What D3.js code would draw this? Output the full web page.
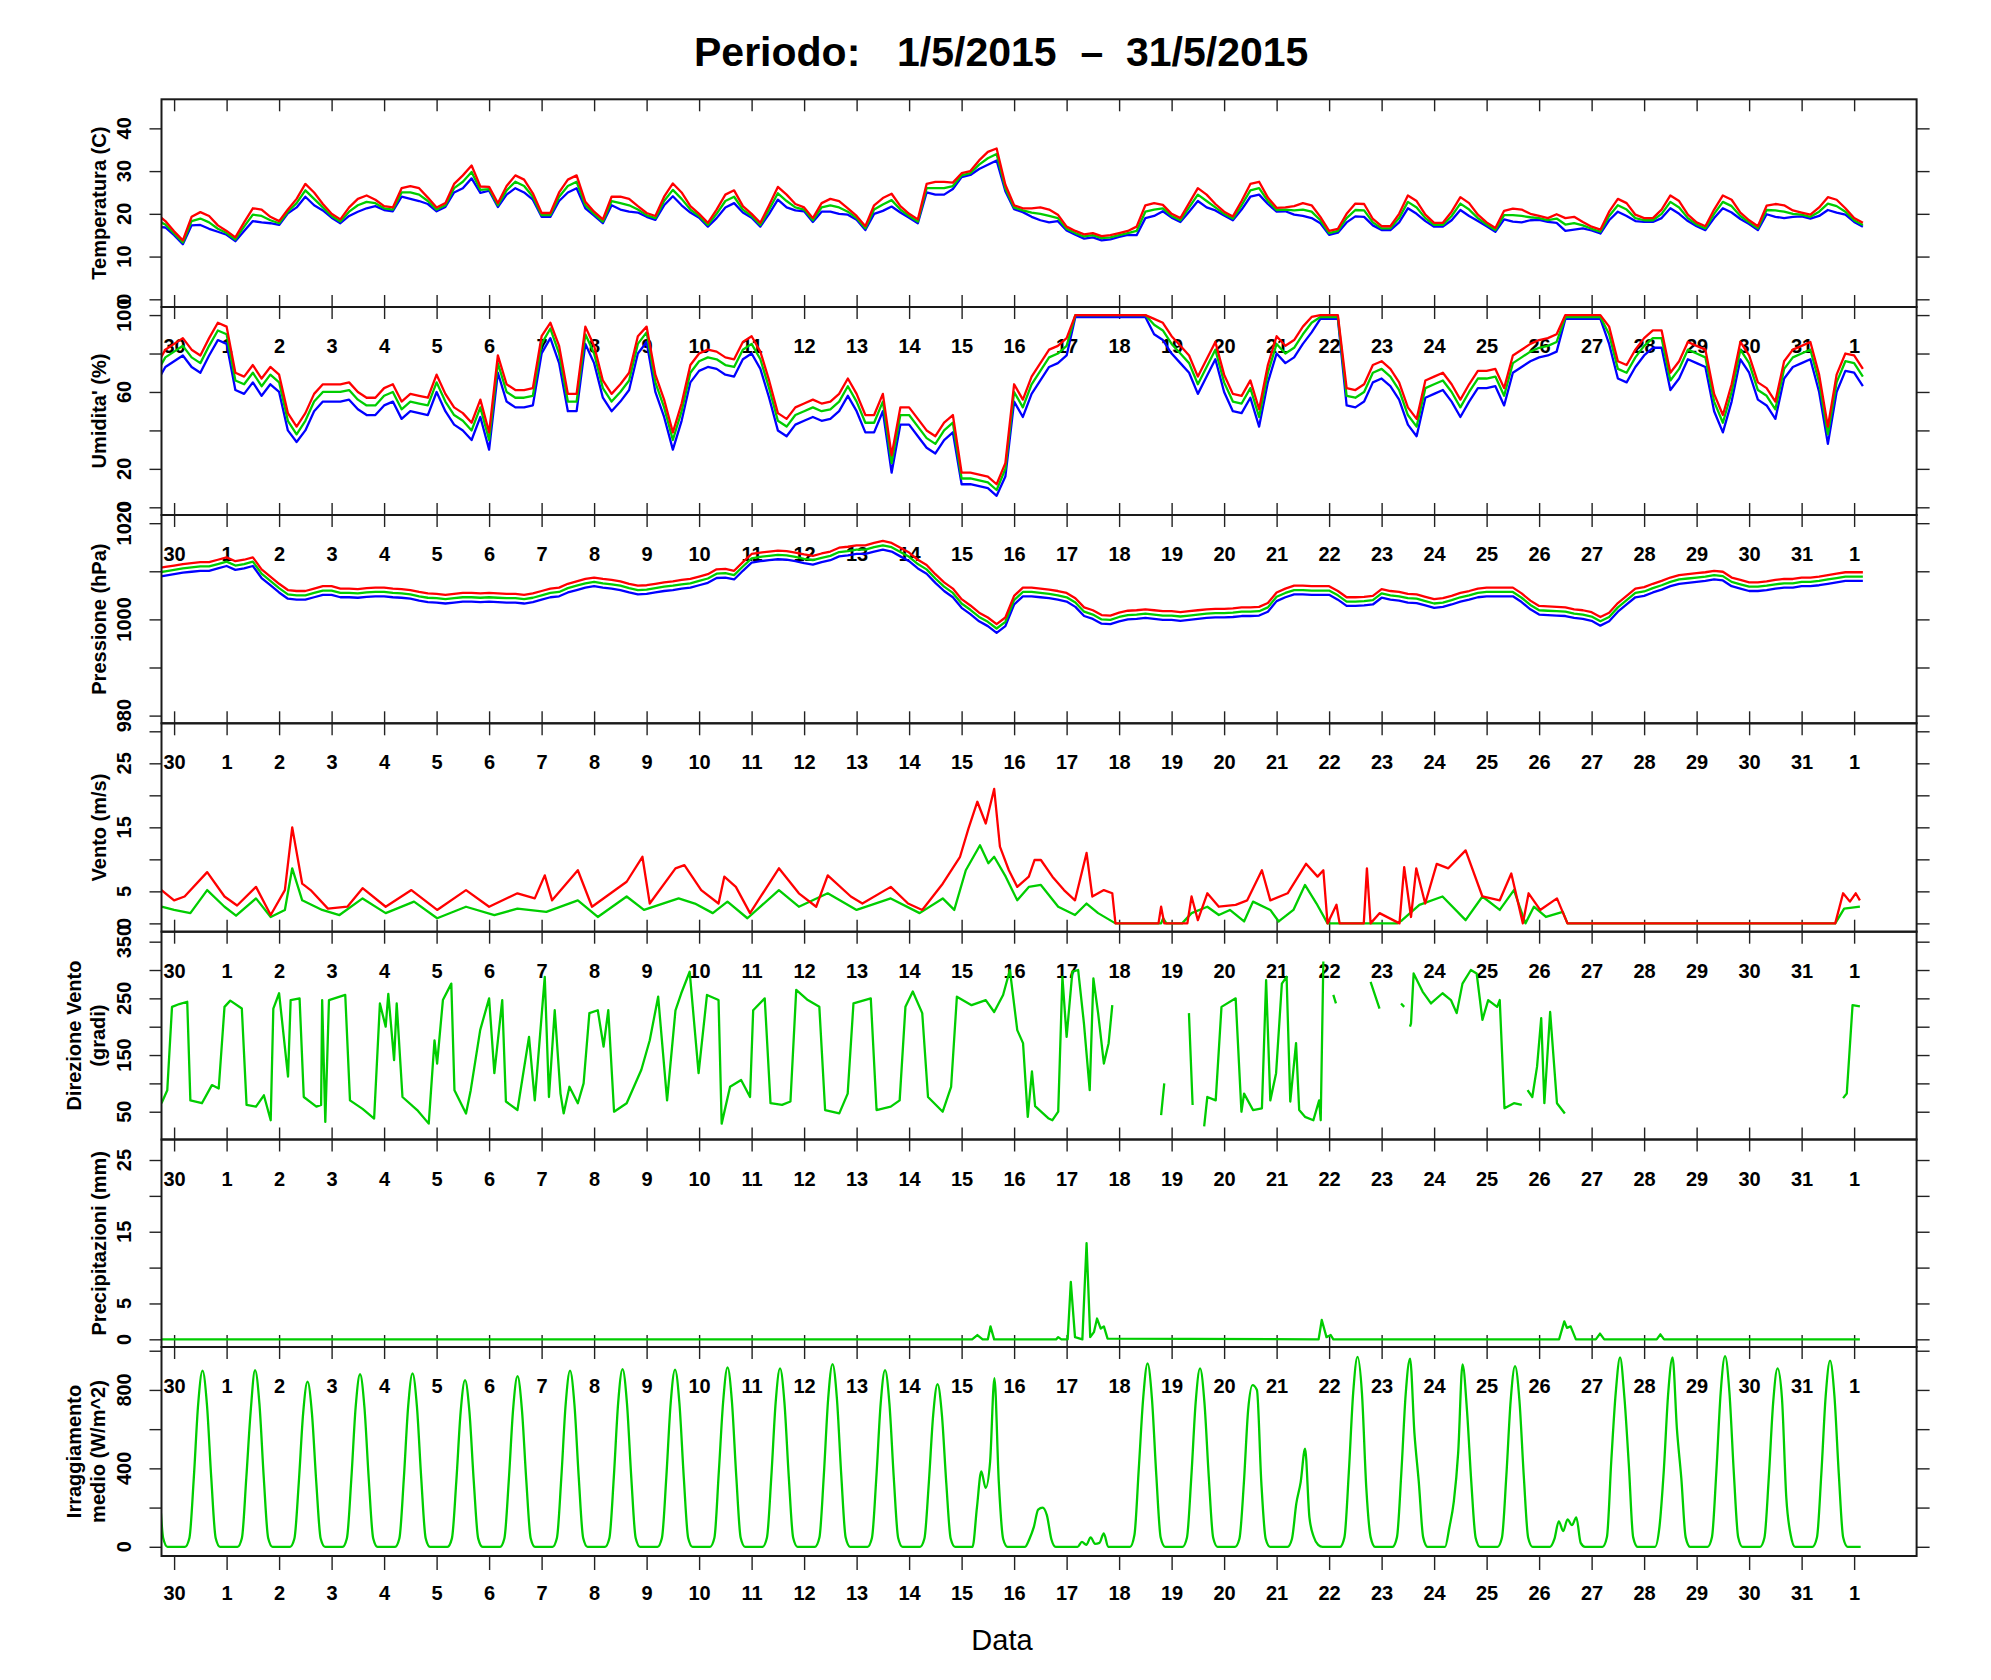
<!DOCTYPE html>
<html><head><meta charset="utf-8">
<script src="https://cdn.jsdelivr.net/npm/d3@7/dist/d3.min.js"></script>
<style>
body{margin:0;background:#fff}
svg{display:block;background:#fff}
text{font-family:"Liberation Sans",Arial,Helvetica,sans-serif;fill:#000}
</style>
</head><body>
<svg id="c" width="1991" height="1680"></svg>
<script>
// ---------------- DATA ----------------
// x positions in days: 0 = tick "30", 32 = tick "1"
const dayLabels = ["30","1","2","3","4","5","6","7","8","9","10","11","12","13","14","15","16","17","18","19","20","21","22","23","24","25","26","27","28","29","30","31","1"];
const titleParts = ["Periodo:", "1/5/2015", "\u2013", "31/5/2015"];
const xTitle = "Data";

// 4-hour grid (start -0.5 day, step 1/6 day): temperature, humidity, pressure
const gridStart = -0.5, gridStep = 1/6;
const tempMean = [19,18.5,17.5,
15.4,13.3,18.3,18.9,18.0,16.5, 15.5,14.0,17.0,19.8,19.5,18.5, 17.8,20.5,22.5,25.5,23.5,21.5, 19.5,18.2,20.5,22.0,22.8,22.5,
21.3,21.0,25.0,25.0,24.5,23.0, 21.0,22.0,26.0,27.5,29.8,25.6, 25.8,22.0,25.5,27.5,26.5,24.0, 19.7,19.7,24.0,26.5,27.5,22.0,
20.0,18.2,23.0,22.5,22.0,21.0, 19.7,19.0,23.0,25.6,23.5,21.0, 19.5,17.4,20.0,23.0,24.0,21.0, 19.5,17.4,21.0,24.8,23.0,21.5,
21.0,18.5,21.5,22.0,21.5,20.5, 19.0,16.6,21.0,22.2,23.2,21.0, 19.5,18.2,26.0,26.0,26.0,26.5, 29.0,29.5,31.5,33.0,34.0,26.0,
21.5,20.8,20.3,20.0,19.5,19.0, 16.5,15.5,14.7,15.0,14.3,14.5, 15.0,15.5,16.0,20.5,21.0,21.3, 19.5,18.5,21.5,24.5,23.0,21.5,
20.0,18.9,22.0,25.5,26.0,23.0, 20.9,21.0,20.8,21.0,20.5,18.5, 15.5,16.0,19.0,20.9,20.8,18.0, 16.6,16.6,19.0,22.8,21.5,19.0,
17.4,17.4,19.5,22.4,21.0,19.0, 17.5,16.2,19.7,19.7,19.5,19.2, 19.0,18.5,18.9,17.5,17.8,17.3, 16.5,15.8,19.5,22.0,21.0,19.0,
18.5,18.5,20.0,22.8,21.5,19.0, 17.5,16.6,20.0,22.8,21.8,19.5, 18.0,16.6,20.9,20.8,20.5,20.0, 19.8,19.3,20.5,22.4,21.8,20.5,
18.5,17.4];
const tempMax = [20.5,20.0,18.3,
15.9,13.8,19.3,20.4,19.5,17.3, 16.0,14.5,18.0,21.3,21.0,19.3, 18.3,21.0,23.5,27.0,25.0,22.3, 20.0,18.7,21.5,23.5,24.3,23.3,
21.8,21.5,26.0,26.5,26.0,23.8, 21.5,22.5,27.0,29.0,31.3,26.4, 26.3,22.5,26.5,29.0,28.0,24.8, 20.2,20.2,25.0,28.0,29.0,22.8,
20.5,18.7,24.0,24.0,23.5,21.8, 20.2,19.5,24.0,27.1,25.0,21.8, 20.0,17.9,21.0,24.5,25.5,21.8, 20.0,17.9,22.0,26.3,24.5,22.3,
21.5,19.0,22.5,23.5,23.0,21.3, 19.5,17.1,22.0,23.7,24.7,21.8, 20.0,18.7,27.0,27.5,27.5,27.3, 29.5,30.0,32.5,34.5,35.3,26.8,
22.0,21.3,21.3,21.5,21.0,19.8, 17.0,16.0,15.2,15.5,14.8,15.0, 15.5,16.0,17.0,22.0,22.5,22.1, 20.0,19.0,22.5,26.0,24.5,22.3,
20.5,19.4,23.0,27.0,27.5,23.8, 21.4,21.5,21.8,22.5,22.0,19.3, 16.0,16.5,20.0,22.4,22.3,18.8, 17.1,17.1,20.0,24.3,23.0,19.8,
17.9,17.9,20.5,23.9,22.5,19.8, 18.0,16.7,20.7,21.2,21.0,20.0, 19.5,19.0,19.9,19.0,19.3,18.1, 17.0,16.3,20.5,23.5,22.5,19.8,
19.0,19.0,21.0,24.3,23.0,19.8, 18.0,17.1,21.0,24.3,23.3,20.3, 18.5,17.1,21.9,22.3,22.0,20.8, 20.3,19.8,21.5,23.9,23.3,21.3,
19.0,17.9];
const tempMin = [17.5,17.0,16.8,
15.0,12.9,17.3,17.4,16.5,15.8, 15.1,13.6,16.0,18.3,18.0,17.8, 17.4,20.1,21.5,24.0,22.0,20.8, 19.1,17.8,19.5,20.5,21.3,21.8,
20.9,20.6,24.0,23.5,23.0,22.3, 20.6,21.6,25.0,26.0,28.3,24.9, 25.4,21.6,24.5,26.0,25.0,23.3, 19.3,19.3,23.0,25.0,26.0,21.3,
19.6,17.8,22.0,21.0,20.5,20.3, 19.3,18.6,22.0,24.1,22.0,20.3, 19.1,17.0,19.0,21.5,22.5,20.3, 19.1,17.0,20.0,23.3,21.5,20.8,
20.6,18.1,20.5,20.5,20.0,19.8, 18.6,16.2,20.0,20.7,21.7,20.3, 19.1,17.8,25.0,24.5,24.5,25.8, 28.6,29.1,30.5,31.5,32.5,25.3,
21.1,20.4,19.3,18.5,18.0,18.3, 16.1,15.1,14.2,14.5,13.8,14.0, 14.6,15.1,15.0,19.0,19.5,20.6, 19.1,18.1,20.5,23.0,21.5,20.8,
19.6,18.5,21.0,24.0,24.5,22.3, 20.5,20.6,19.8,19.5,19.0,17.8, 15.1,15.6,18.0,19.4,19.3,17.3, 16.2,16.2,18.0,21.3,20.0,18.3,
17.0,17.0,18.5,20.9,19.5,18.3, 17.1,15.8,18.7,18.2,18.0,18.5, 18.6,18.1,17.9,16.0,16.3,16.6, 16.1,15.4,18.5,20.5,19.5,18.3,
18.1,18.1,19.0,21.3,20.0,18.3, 17.1,16.2,19.0,21.3,20.3,18.8, 17.6,16.2,19.9,19.3,19.0,19.3, 19.4,18.9,19.5,20.9,20.3,19.8,
18.1,17.0];

const humMean = [68,70,78,
81,84,78,75,84,92, 90,66,64,70,63,69, 65,45,38,45,55,60, 60,60,61,56,53,53,
58,60,51,55,54,53, 65,55,48,45,40,52, 35,75,60,57,57,58, 85,93,80,55,55,90,
80,62,55,60,66,85, 91,65,52,35,50,70, 76,78,77,74,73,82, 85,77,62,45,42,48,
50,52,50,51,55,63, 55,44,44,55,23,48, 48,42,36,33,40,44, 15,15,14,13,9,20,
60,52,64,71,78,80, 84,100,100,100,100,100, 100,100,100,100,95,92, 85,80,75,64,73,82,
65,55,54,62,47,70, 85,80,83,90,96,99, 99,99,58,57,60,70, 72,68,61,48,42,62,
64,66,60,52,60,67, 67,68,58,75,78,81, 83,84,86,99,99,99, 99,99,90,72,70,78,
84,88,88,66,72,82, 80,78,55,44,60,82, 75,61,58,51,72,78, 80,82,65,38,65,76,
75,68];
const humMax = [72,74,82,
85,88,82,79,88,96, 94,70,68,74,67,73, 69,49,42,49,59,64, 64,64,65,60,57,57,
62,64,55,59,58,57, 69,59,52,49,44,56, 39,79,64,61,61,62, 89,96,84,59,59,94,
84,66,59,64,70,89, 94,69,56,39,54,74, 80,82,81,78,77,86, 89,81,66,49,46,52,
54,56,54,55,59,67, 59,48,48,59,27,52, 52,46,40,37,44,48, 18,18,17,16,12,23,
64,56,68,75,82,84, 88,100,100,100,100,100, 100,100,100,100,98,96, 89,84,79,68,77,86,
69,59,58,66,51,74, 89,84,87,94,99,100, 100,100,62,61,64,74, 76,72,65,52,46,66,
68,70,64,56,64,71, 71,72,62,79,82,85, 87,88,90,100,100,100, 100,100,94,76,74,82,
88,92,92,70,76,86, 84,82,59,48,64,86, 79,65,62,55,76,82, 84,86,69,42,69,80,
79,72];
const humMin = [63,65,73,
76,79,73,70,79,87, 85,61,59,65,58,64, 60,40,34,40,50,55, 55,55,56,51,48,48,
53,55,46,50,49,48, 60,50,43,40,35,47, 30,70,55,52,52,53, 80,88,75,50,50,85,
75,57,50,55,61,80, 86,60,47,30,45,65, 71,73,72,69,68,77, 80,72,57,40,37,43,
45,47,45,46,50,58, 50,39,39,50,18,43, 43,37,31,28,35,39, 12,12,11,10,6,16,
55,47,59,66,73,75, 79,99,99,99,99,99, 99,99,99,99,90,87, 80,75,70,59,68,77,
60,50,49,57,42,65, 80,75,78,85,91,98, 98,98,53,52,55,65, 67,63,56,43,37,57,
59,61,55,47,55,62, 62,63,53,70,73,76, 78,79,81,98,98,98, 98,98,85,67,65,73,
79,83,83,61,67,77, 75,73,50,39,55,77, 70,56,53,46,67,73, 75,77,60,33,60,71,
70,63];

const presMean = [1009.5,1009.7,1010,
1010.3,1010.6,1010.8,1011,1011,1011.5, 1012,1011.2,1011.5,1012,1009.5,1008, 1006.5,1005.2,1005,1005,1005.5,1006, 1006,1005.5,1005.5,1005.4,1005.6,1005.7,
1005.7,1005.5,1005.4,1005.2,1004.8,1004.5, 1004.4,1004.2,1004.4,1004.6,1004.6,1004.5, 1004.6,1004.5,1004.4,1004.4,1004.2,1004.5, 1005,1005.5,1005.7,1006.5,1007,1007.5,
1007.8,1007.5,1007.3,1007,1006.5,1006.1, 1006.2,1006.5,1006.8,1007,1007.3,1007.5, 1008,1008.5,1009.5,1009.6,1009.2,1011, 1012.7,1013,1013.2,1013.4,1013.3,1013,
1012.6,1012.3,1012.8,1013.2,1014,1014.2, 1014.5,1014.5,1015,1015.4,1015,1014, 1013,1011.5,1010.4,1008.5,1006.8,1005.5, 1003.3,1002,1000.5,999.5,998.1,999.5,
1004,1005.7,1005.7,1005.5,1005.3,1005, 1004.6,1003.5,1001.6,1001,1000,999.9, 1000.5,1000.9,1001,1001.2,1001,1000.8, 1000.8,1000.6,1000.8,1001,1001.2,1001.3,
1001.3,1001.4,1001.6,1001.6,1001.7,1002.5, 1004.7,1005.5,1006.1,1006.1,1006,1006, 1006,1005,1003.7,1003.7,1003.8,1004, 1005.4,1005,1004.8,1004.4,1004.3,1003.8,
1003.3,1003.5,1004,1004.6,1005,1005.5, 1005.7,1005.7,1005.7,1005.7,1004.5,1003, 1001.9,1001.8,1001.7,1001.6,1001.2,1001, 1000.6,999.6,1000.5,1002.5,1004,1005.5,
1005.8,1006.5,1007.1,1007.8,1008.3,1008.5, 1008.7,1008.9,1009.2,1009,1007.8,1007.3, 1006.8,1006.8,1007,1007.3,1007.5,1007.5, 1007.8,1007.8,1008,1008.3,1008.6,1008.9,
1008.9,1008.9];
const presMax = [1010.4,1010.6,1010.9,
1011.2,1011.5,1011.7,1011.9,1011.9,1012.4, 1012.9,1012.1,1012.4,1012.9,1010.4,1008.9, 1007.4,1006.1,1005.9,1005.9,1006.4,1006.9, 1006.9,1006.4,1006.4,1006.3,1006.5,1006.6,
1006.6,1006.4,1006.3,1006.1,1005.7,1005.4, 1005.3,1005.1,1005.3,1005.5,1005.5,1005.4, 1005.5,1005.4,1005.3,1005.3,1005.1,1005.4, 1005.9,1006.4,1006.6,1007.4,1007.9,1008.4,
1008.7,1008.4,1008.2,1007.9,1007.4,1007, 1007.1,1007.4,1007.7,1007.9,1008.2,1008.4, 1008.9,1009.4,1010.4,1010.5,1010.1,1011.9, 1013.6,1013.9,1014.1,1014.3,1014.2,1013.9,
1013.5,1013.2,1013.7,1014.1,1014.9,1015.1, 1015.4,1015.4,1015.9,1016.3,1015.9,1014.9, 1013.9,1012.4,1011.3,1009.4,1007.7,1006.4, 1004.2,1002.9,1001.4,1000.4,999,1000.4,
1004.9,1006.6,1006.6,1006.4,1006.2,1005.9, 1005.5,1004.4,1002.5,1001.9,1000.9,1000.8, 1001.4,1001.8,1001.9,1002.1,1001.9,1001.7, 1001.7,1001.5,1001.7,1001.9,1002.1,1002.2,
1002.2,1002.3,1002.5,1002.5,1002.6,1003.4, 1005.6,1006.4,1007,1007,1006.9,1006.9, 1006.9,1005.9,1004.6,1004.6,1004.7,1004.9, 1006.3,1005.9,1005.7,1005.3,1005.2,1004.7,
1004.2,1004.4,1004.9,1005.5,1005.9,1006.4, 1006.6,1006.6,1006.6,1006.6,1005.4,1003.9, 1002.8,1002.7,1002.6,1002.5,1002.1,1001.9, 1001.5,1000.5,1001.4,1003.4,1004.9,1006.4,
1006.7,1007.4,1008,1008.7,1009.2,1009.4, 1009.6,1009.8,1010.1,1009.9,1008.7,1008.2, 1007.7,1007.7,1007.9,1008.2,1008.4,1008.4, 1008.7,1008.7,1008.9,1009.2,1009.5,1009.8,
1009.8,1009.8];
const presMin = [1008.6,1008.8,1009.1,
1009.4,1009.7,1009.9,1010.1,1010.1,1010.6, 1011.1,1010.3,1010.6,1011.1,1008.6,1007.1, 1005.6,1004.3,1004.1,1004.1,1004.6,1005.1, 1005.1,1004.6,1004.6,1004.5,1004.7,1004.8,
1004.8,1004.6,1004.5,1004.3,1003.9,1003.6, 1003.5,1003.3,1003.5,1003.7,1003.7,1003.6, 1003.7,1003.6,1003.5,1003.5,1003.3,1003.6, 1004.1,1004.6,1004.8,1005.6,1006.1,1006.6,
1006.9,1006.6,1006.4,1006.1,1005.6,1005.2, 1005.3,1005.6,1005.9,1006.1,1006.4,1006.6, 1007.1,1007.6,1008.6,1008.7,1008.3,1010.1, 1011.8,1012.1,1012.3,1012.5,1012.4,1012.1,
1011.7,1011.4,1011.9,1012.3,1013.1,1013.3, 1013.6,1013.6,1014.1,1014.5,1014.1,1013.1, 1012.1,1010.6,1009.5,1007.6,1005.9,1004.6, 1002.4,1001.1,999.6,998.6,997.2,998.6,
1003.1,1004.8,1004.8,1004.6,1004.4,1004.1, 1003.7,1002.6,1000.7,1000.1,999.1,999, 999.6,1000,1000.1,1000.3,1000.1,999.9, 999.9,999.7,999.9,1000.1,1000.3,1000.4,
1000.4,1000.5,1000.7,1000.7,1000.8,1001.6, 1003.8,1004.6,1005.2,1005.2,1005.1,1005.1, 1005.1,1004.1,1002.8,1002.8,1002.9,1003.1, 1004.5,1004.1,1003.9,1003.5,1003.4,1002.9,
1002.4,1002.6,1003.1,1003.7,1004.1,1004.6, 1004.8,1004.8,1004.8,1004.8,1003.6,1002.1, 1001,1000.9,1000.8,1000.7,1000.3,1000.1, 999.7,998.7,999.6,1001.6,1003.1,1004.6,
1004.9,1005.6,1006.2,1006.9,1007.4,1007.6, 1007.8,1008,1008.3,1008.1,1006.9,1006.4, 1005.9,1005.9,1006.1,1006.4,1006.6,1006.6, 1006.9,1006.9,1007.1,1007.4,1007.7,1008,
1008,1008];

// wind [day, m/s]
const windMean = [[-0.24,2.6],[0,2.1],[0.31,1.6],[0.63,5.2],[0.96,2.6],[1.18,1.2],[1.56,3.9],[1.84,1.0],[2.11,2.1],[2.25,8.6],[2.44,3.6],[2.82,2.1],[3.15,1.3],[3.59,3.9],[4.03,1.6],[4.57,3.4],[5.01,0.8],[5.56,2.6],[6.1,1.3],[6.54,2.3],[7.09,1.8],[7.69,3.6],[8.07,1.0],[8.62,4.2],[8.95,2.1],[9.61,3.9],[9.92,3.1],[10.26,1.6],[10.54,3.4],[10.92,0.8],[11.52,5.2],[11.9,2.6],[12.45,4.7],[13.0,2.1],[13.65,3.9],[14.2,1.6],[14.64,3.9],[14.86,2.1],[15.08,8.3],[15.35,12.2],[15.51,9.4],[15.62,10.4],[15.84,7.3],[16.06,3.6],[16.28,5.7],[16.51,6.0],[16.84,2.6],[17.16,1.3],[17.38,3.1],[17.6,1.6],[17.93,0],[18.8,0],[18.84,0.8],[18.9,0],[19.2,0],[19.38,1.6],[19.68,2.6],[19.9,1.3],[20.11,2.1],[20.38,0.3],[20.55,3.4],[20.88,2.1],[21.04,0.3],[21.32,2.1],[21.54,6.0],[21.76,3.1],[21.97,0],[23.3,0],[23.39,0.5],[23.72,2.9],[24.16,4.2],[24.6,0.5],[24.92,4.2],[25.25,2.1],[25.52,5.2],[25.74,0],[25.9,2.6],[26.13,1.0],[26.45,1.8],[26.54,0],[31.64,0],[31.81,2.3],[32.11,2.6]];
const windGust = [[-0.24,5.2],[0,3.6],[0.2,4.2],[0.63,8.0],[0.96,4.2],[1.2,2.8],[1.56,5.7],[1.84,1.3],[2.11,5.2],[2.25,15.0],[2.44,6.2],[2.6,5.2],[2.93,2.3],[3.3,2.6],[3.59,5.5],[4.03,2.6],[4.52,5.2],[5.01,2.1],[5.56,5.2],[6.0,2.6],[6.54,4.7],[6.87,3.9],[7.06,7.5],[7.2,3.6],[7.69,8.3],[7.96,2.6],[8.62,6.5],[8.92,10.4],[9.06,3.1],[9.55,8.6],[9.72,9.1],[10.04,5.2],[10.37,3.1],[10.48,7.3],[10.7,5.7],[10.97,1.6],[11.52,8.6],[11.9,4.7],[12.23,2.6],[12.45,7.5],[12.89,4.2],[13.11,3.1],[13.65,5.7],[13.98,3.1],[14.25,2.1],[14.64,6.2],[14.97,10.4],[15.13,14.8],[15.3,19.0],[15.46,15.6],[15.62,21.0],[15.73,12.0],[15.9,8.3],[16.06,5.7],[16.28,7.3],[16.39,9.9],[16.51,9.9],[16.73,7.3],[16.95,5.2],[17.16,3.6],[17.38,11.0],[17.49,4.2],[17.71,5.2],[17.87,4.7],[17.93,0],[18.75,0],[18.8,2.6],[18.86,0],[19.3,0],[19.38,4.2],[19.5,0.5],[19.68,4.7],[19.9,2.6],[20.22,2.9],[20.44,3.6],[20.72,8.3],[20.88,3.6],[21.21,4.7],[21.56,9.3],[21.78,7.3],[21.89,8.3],[21.97,0],[22.14,2.9],[22.2,0],[22.66,0],[22.72,8.6],[22.79,0],[22.96,1.6],[23.34,0],[23.43,8.8],[23.56,1.0],[23.66,8.6],[23.83,3.1],[24.05,9.3],[24.27,8.6],[24.6,11.4],[24.92,4.2],[25.25,3.6],[25.47,7.8],[25.69,0],[25.8,4.7],[26.02,2.1],[26.34,3.9],[26.54,0],[31.64,0],[31.79,4.7],[31.92,3.4],[32.03,4.7],[32.11,3.6]];

// wind direction [day, degrees]; null = missing
const windDir = [[-0.24,65],[-0.13,88],[-0.04,235],[0.1,240],[0.25,244],[0.31,70],[0.53,65],[0.72,97],[0.85,91],[0.96,235],[1.07,246],[1.29,232],[1.38,62],[1.56,59],[1.71,79],[1.84,35],[1.89,232],[2.0,259],[2.17,112],[2.22,247],[2.39,250],[2.47,76],[2.71,59],[2.8,62],[2.82,247],[2.88,32],[2.95,247],[3.26,256],[3.35,70],[3.59,55],[3.81,38],[3.92,241],[4.03,200],[4.08,258],[4.19,141],[4.24,241],[4.35,76],[4.63,53],[4.85,29],[4.96,176],[5.01,135],[5.12,247],[5.28,276],[5.34,88],[5.56,47],[5.65,88],[5.83,194],[6.0,250],[6.1,118],[6.25,247],[6.32,68],[6.54,53],[6.76,182],[6.87,70],[7.06,288],[7.14,76],[7.25,229],[7.36,82],[7.42,47],[7.53,94],[7.69,65],[7.8,100],[7.91,224],[8.07,229],[8.18,165],[8.27,229],[8.38,50],[8.62,65],[8.9,124],[9.06,176],[9.22,253],[9.39,70],[9.55,229],[9.66,259],[9.82,297],[9.99,118],[10.15,256],[10.37,247],[10.43,29],[10.59,94],[10.8,106],[10.97,76],[11.03,229],[11.25,250],[11.36,65],[11.58,62],[11.74,68],[11.85,265],[12.07,247],[12.29,235],[12.4,53],[12.67,47],[12.83,82],[12.94,241],[13.27,250],[13.38,53],[13.65,59],[13.82,70],[13.93,235],[14.07,262],[14.25,224],[14.36,76],[14.64,50],[14.8,94],[14.91,253],[15.19,238],[15.46,247],[15.62,226],[15.79,256],[15.92,300],[16.06,194],[16.17,171],[16.26,41],[16.34,121],[16.4,60],[16.66,38],[16.73,35],[16.84,50],[16.92,288],[17.0,182],[17.11,297],[17.22,300],[17.33,206],[17.44,88],[17.51,285],[17.6,224],[17.71,135],[17.8,171],[17.87,238],[18.3,null],[18.8,44],[18.86,100],[19.1,null],[19.33,224],[19.4,62],[19.5,null],[19.62,24],[19.68,76],[19.84,70],[19.95,235],[20.22,250],[20.33,50],[20.38,82],[20.55,53],[20.72,56],[20.8,282],[20.88,70],[20.99,118],[21.1,276],[21.19,288],[21.26,68],[21.37,171],[21.43,53],[21.54,41],[21.7,35],[21.81,70],[21.84,35],[21.89,315],[22.0,null],[22.08,256],[22.13,241],[22.4,null],[22.79,279],[22.96,232],[23.2,null],[23.37,241],[23.43,235],[23.5,null],[23.54,200],[23.56,206],[23.61,294],[23.78,262],[23.94,241],[24.16,259],[24.32,247],[24.43,224],[24.54,276],[24.7,300],[24.81,294],[24.92,212],[25.03,247],[25.2,235],[25.25,247],[25.34,56],[25.52,65],[25.67,62],[25.72,null],[25.78,88],[25.87,76],[25.96,129],[26.04,215],[26.1,65],[26.21,226],[26.34,65],[26.49,47],[27.0,null],[31.79,74],[31.86,82],[31.97,238],[32.11,236]];

// precipitation [day, mm]
const precip = [[-0.24,0],[15.2,0],[15.3,0.6],[15.4,0],[15.5,0],[15.55,1.8],[15.62,0],[16.8,0],[16.84,0.3],[16.9,0],[17.02,0],[17.08,8.0],[17.16,0.3],[17.3,0],[17.38,13.4],[17.45,0.3],[17.52,1.0],[17.58,2.9],[17.65,1.5],[17.71,1.8],[17.78,0.1],[21.8,0],[21.86,2.7],[21.95,0.3],[22.03,0.6],[22.08,0],[26.38,0],[26.48,2.5],[26.53,1.6],[26.6,1.8],[26.7,0],[27.08,0],[27.16,0.8],[27.24,0],[28.24,0],[28.31,0.7],[28.38,0],[32.11,0]];

// mean irradiance, 2-hour grid (01,03,...,23 h), starting on the day before tick "30"
const irrStart = -23/24, irrStep = 1/12;
const irradiance = [
0,0,0,45,350,727,898,727,350,45,0,0,
0,0,0,45,350,727,898,727,350,45,0,0,
0,0,0,45,351,690,901,730,351,45,0,0,
0,0,0,42,328,682,842,682,328,42,0,0,
0,0,0,44,343,713,880,713,343,44,0,0,
0,0,0,44,345,716,884,716,345,44,0,0,
0,0,0,43,332,689,850,689,332,43,0,0,
0,0,0,44,339,705,870,700,339,44,0,0,
0,0,0,45,350,727,898,727,350,45,0,0,
0,0,0,45,353,734,906,734,353,45,0,0,
0,0,0,45,353,732,904,732,353,45,0,0,
0,0,0,46,380,741,915,741,357,46,0,0,
0,0,0,46,355,737,910,737,355,46,0,0,
0,0,0,47,363,755,932,755,363,47,0,0,
0,0,0,45,351,730,901,730,351,45,0,0,
0,0,0,42,324,672,830,672,324,42,0,0,
0,0,0,200,385,300,430,860,330,40,0,0,
0,0,0,40,100,190,200,160,40,0,0,0,
0,0,0,25,10,48,15,20,68,0,0,0,
0,0,0,60,400,757,935,757,365,47,0,0,
0,0,0,46,355,737,910,737,355,46,0,0,
0,0,0,41,320,700,825,800,330,41,0,0,
0,0,0,40,220,330,500,150,50,10,0,0,
0,0,0,48,378,785,969,785,300,48,0,0,
0,0,0,48,374,778,960,580,330,48,0,0,
0,0,0,100,230,480,930,700,330,45,0,0,
0,0,0,46,359,746,921,746,359,46,0,0,
0,0,0,40,130,80,140,110,150,20,0,0,
0,0,0,50,440,782,966,760,420,48,0,0,
0,0,0,100,390,782,966,600,350,48,0,0,
0,0,0,49,379,787,972,787,379,49,0,0,
0,0,0,46,355,737,910,760,250,60,0,0,
0,0,0,47,370,769,949,769,370,47,0,0,
0,0];

// ---------------- DRAWING ----------------
const BLUE = "#0000ff", GREEN = "#00cd00", RED = "#ff0000";
const svg = d3.select("#c");
const X0 = 161.5, X1 = 1916.6;
const edges = [99.3, 307, 515, 723.3, 931.7, 1139.5, 1347, 1556];
const x = d3.scaleLinear().domain([-0.24, 33.19]).range([X0, X1]);
const dayTicks = d3.range(dayLabels.length);

const grid = (start, step, vals) => vals.map((v, i) => ({t: start + i * step, v}));
const pairs = arr => arr.map(d => ({t: d[0], v: d[1]}));

const panels = [
  {title: ["Temperatura (C)"], domain: [-1.8, 46.8], ticks: [0,10,20,30,40], labels: [0,10,20,30,40],
   series: [[grid(gridStart, gridStep, tempMin), BLUE], [grid(gridStart, gridStep, tempMean), GREEN], [grid(gridStart, gridStep, tempMax), RED]]},
  {title: ["Umidita' (%)"], domain: [-4, 104.2], ticks: [0,20,40,60,80,100], labels: [0,20,60,100],
   series: [[grid(gridStart, gridStep, humMin), BLUE], [grid(gridStart, gridStep, humMean), GREEN], [grid(gridStart, gridStep, humMax), RED]]},
  {title: ["Pressione (hPa)"], domain: [978.4, 1021.7], ticks: [980,990,1000,1010,1020], labels: [980,1000,1020],
   series: [[grid(gridStart, gridStep, presMin), BLUE], [grid(gridStart, gridStep, presMean), GREEN], [grid(gridStart, gridStep, presMax), RED]]},
  {title: ["Vento (m/s)"], domain: [-1.3, 31.25], ticks: [0,5,10,15,20,25,30], labels: [0,5,15,25],
   series: [[pairs(windMean), GREEN], [pairs(windGust), RED]]},
  {title: ["Direzione Vento", "(gradi)"], domain: [1, 367.6], ticks: [50,100,150,200,250,300,350], labels: [50,150,250,350],
   series: [[pairs(windDir), GREEN]]},
  {title: ["Precipitazioni (mm)"], domain: [-1.07, 27.86], ticks: [0,5,10,15,20,25], labels: [0,5,15,25],
   series: [[pairs(precip), GREEN]]},
  {title: ["Irraggiamento", "medio (W/m^2)"], domain: [-47, 1019], ticks: [0,200,400,600,800,1000], labels: [0,400,800],
   series: [[grid(irrStart, irrStep, irradiance), GREEN]], curve: d3.curveMonotoneX}
];

const FONT = '"Liberation Sans",Arial,Helvetica,sans-serif';

function rotText(g, cx, cy, str, size, weight) {
  g.append("text").attr("transform", `translate(${cx},${cy}) rotate(-90)`)
    .attr("text-anchor", "middle").attr("font-size", size).attr("font-weight", weight)
    .text(str);
}

panels.forEach((p, k) => {
  const top = edges[k], bottom = edges[k + 1];
  const y = d3.scaleLinear().domain(p.domain).range([bottom, top]);
  const g = svg.append("g");

  svg.append("clipPath").attr("id", "clip" + k).append("rect")
    .attr("x", X0).attr("y", top).attr("width", X1 - X0).attr("height", bottom - top);

  // top inner ticks (+ day labels inside panel except first)
  const topAxis = d3.axisBottom(x).tickValues(dayTicks).tickSize(12).tickPadding(20)
    .tickFormat(k === 0 ? () => "" : d => dayLabels[d]);
  const ta = g.append("g").attr("transform", `translate(0,${top})`).call(topAxis);
  ta.select(".domain").remove();
  ta.selectAll("line").attr("stroke", "#222").attr("stroke-width", 1.4);
  ta.selectAll("text").attr("font-size", 20).attr("font-weight", "bold").attr("font-family", FONT).attr("fill", "#000");

  // bottom inner ticks
  const ba = g.append("g").attr("transform", `translate(0,${bottom})`)
    .call(d3.axisTop(x).tickValues(dayTicks).tickSize(k === 6 ? 0 : 12).tickFormat(() => ""));
  ba.select(".domain").remove();
  ba.selectAll("line").attr("stroke", "#222").attr("stroke-width", 1.4);

  // left y ticks + labels
  const la = g.append("g").attr("transform", `translate(${X0},0)`)
    .call(d3.axisLeft(y).tickValues(p.ticks).tickSize(12).tickFormat(() => ""));
  la.select(".domain").remove();
  la.selectAll("line").attr("stroke", "#222").attr("stroke-width", 1.4);
  p.labels.forEach(v => rotText(g, 131, y(v), String(v), 20, "bold"));

  // right y ticks
  const ra = g.append("g").attr("transform", `translate(${X1},0)`)
    .call(d3.axisRight(y).tickValues(p.ticks).tickSize(13).tickFormat(() => ""));
  ra.select(".domain").remove();
  ra.selectAll("line").attr("stroke", "#222").attr("stroke-width", 1.4);

  // axis title
  const mid = (top + bottom) / 2;
  if (p.title.length === 1) rotText(g, 106, mid, p.title[0], 20, "bold");
  else { rotText(g, 81, mid, p.title[0], 20, "bold"); rotText(g, 105, mid, p.title[1], 20, "bold"); }

  // series
  const line = d3.line().defined(d => d.v != null).x(d => x(d.t)).y(d => y(d.v))
    .curve(p.curve || d3.curveLinear);
  const sg = g.append("g").attr("clip-path", `url(#clip${k})`);
  p.series.forEach(([data, color]) => {
    sg.append("path").datum(data).attr("d", line).attr("fill", "none")
      .attr("stroke", color).attr("stroke-width", 2.3).attr("stroke-linejoin", "round");
  });

  // box
  g.append("rect").attr("x", X0).attr("y", top).attr("width", X1 - X0).attr("height", bottom - top)
    .attr("fill", "none").attr("stroke", "#1a1a1a").attr("stroke-width", 2);
});

// bottom outer axis with labels
const bottomAxis = svg.append("g").attr("transform", `translate(0,${edges[7]})`)
  .call(d3.axisBottom(x).tickValues(dayTicks).tickSize(14).tickPadding(16).tickFormat(d => dayLabels[d]));
bottomAxis.select(".domain").remove();
bottomAxis.selectAll("line").attr("stroke", "#222").attr("stroke-width", 1.4);
bottomAxis.selectAll("text").attr("font-size", 20).attr("font-weight", "bold").attr("font-family", FONT).attr("fill", "#000");

// x title
svg.append("text").attr("x", 1002).attr("y", 1650).attr("text-anchor", "middle")
  .attr("font-size", 29).text(xTitle);

// main title
const tg = svg.append("g").attr("font-size", 41).attr("font-weight", "bold");
tg.append("text").attr("x", 694).attr("y", 66).text(titleParts[0]);
tg.append("text").attr("x", 897).attr("y", 66).text(titleParts[1]);
tg.append("text").attr("x", 1092).attr("y", 66).attr("text-anchor", "middle").text(titleParts[2]);
tg.append("text").attr("x", 1126).attr("y", 66).text(titleParts[3]);
</script>
</body></html>
